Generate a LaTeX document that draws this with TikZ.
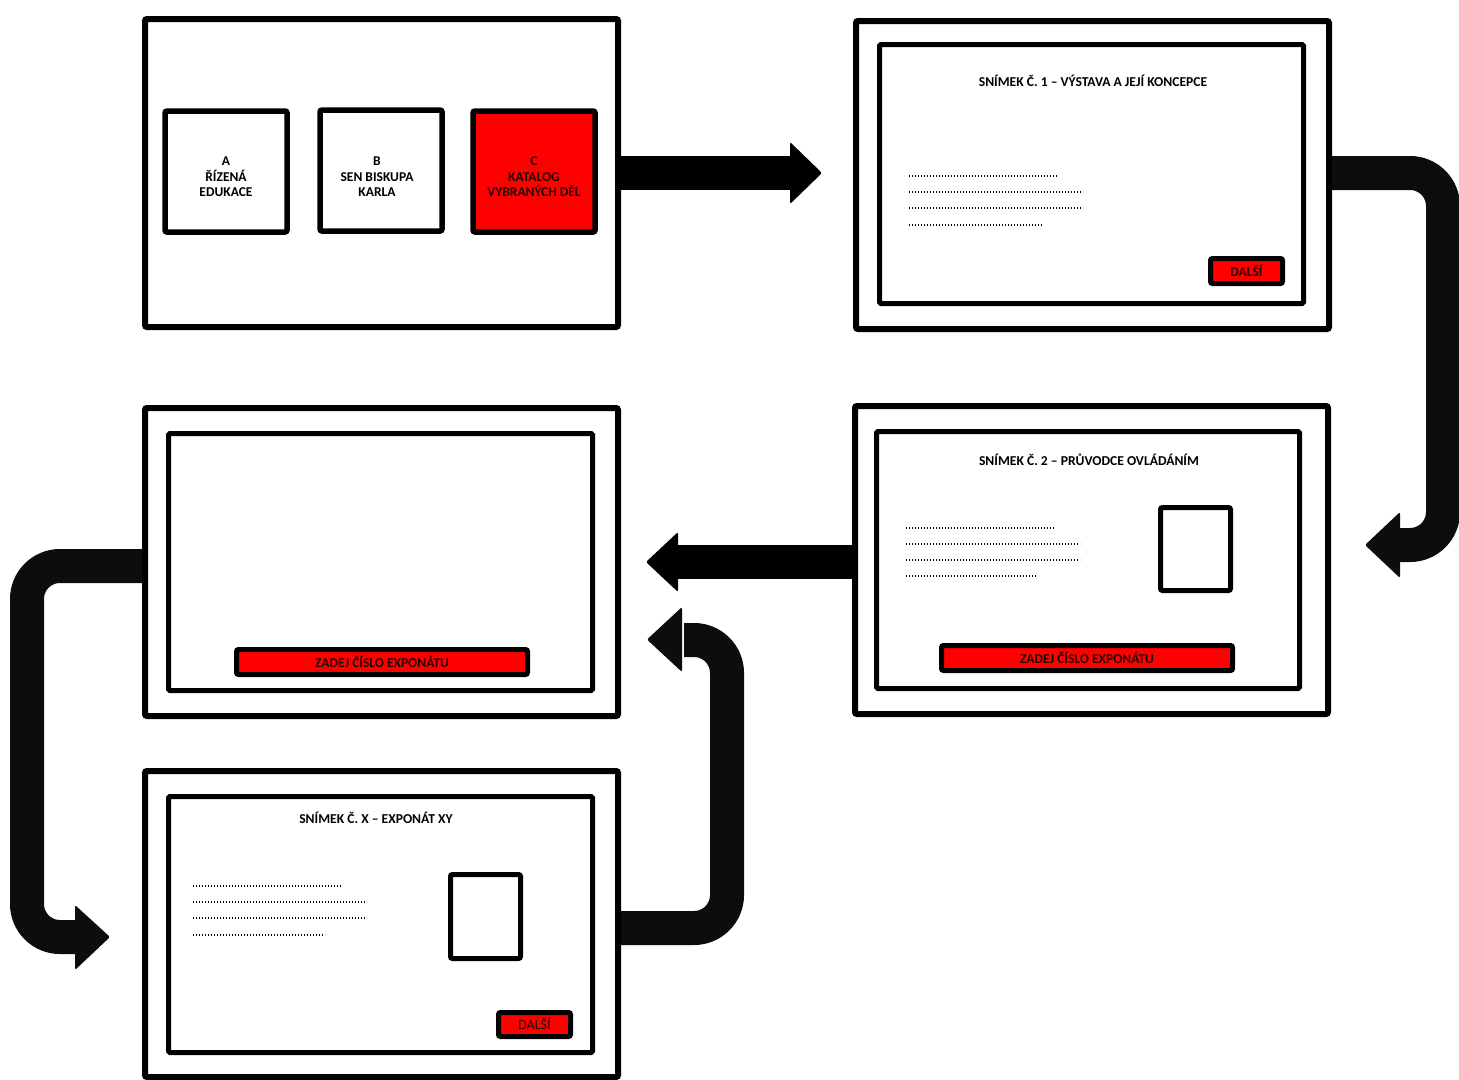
\documentclass[tikz,border=0pt]{standalone}
\usepackage{fontspec}
\setmainfont{Carlito}
\begin{document}
\begin{tikzpicture}[x=1pt,y=-1pt,
  frame/.style={draw=black,line width=6pt,rounded corners=2pt,inner sep=0pt,fill=white},
  screen/.style={draw=black,line width=5pt,rounded corners=1.5pt,inner sep=0pt},
  tile/.style={draw=black,line width=5.5pt,rounded corners=2pt,inner sep=0pt},
  redtile/.style={tile,fill=red},
  tiletext/.style={align=center,inner sep=0pt,font=\bfseries\fontsize{13.5}{15.5}\selectfont},
  redtext/.style={tiletext,text={rgb,255:red,40;green,0;blue,0}},
  btn/.style={draw=black,line width=5pt,rounded corners=2pt,fill=red,inner sep=0pt,
    text={rgb,255:red,40;green,0;blue,0},font=\bfseries\fontsize{13.5}{14}\selectfont,
    text depth=1pt},
  btnreg/.style={btn,font=\fontsize{14}{14}\selectfont},
  photo/.style={draw=black,line width=5pt,rounded corners=2pt,inner sep=0pt},
  title/.style={font=\bfseries\fontsize{13.6}{14}\selectfont,inner sep=0pt},
  dots/.style={line width=1.5pt,dash pattern=on 1.4pt off 1.6pt},
  band/.style={line width=34pt,rounded corners=33pt,color={rgb,255:red,13;green,13;blue,13}},
  straightband/.style={line width=34pt,color=black},
  head/.style={fill=black,rounded corners=2pt},
  curvehead/.style={fill={rgb,255:red,13;green,13;blue,13},rounded corners=2pt}]
\newcommand\rbox[7]{\node[#6,minimum width={#4-#2},minimum height={#5-#3}] (#1) at ({(#2+#4)/2},{(#3+#5)/2}) {#7};}
\useasboundingbox[fill=white] (0,0) rectangle (1459,1079);

% ---- connectors (drawn first, panels cover their ends) ----
\coordinate (a1s) at (618,173);
\coordinate (a1e) at (792,173);
\draw[straightband] (a1s) -- (a1e);
\fill[head] (790,142) -- (822,173) -- (790,204) -- cycle;

\coordinate (a2s) at (1329,173);
\coordinate (a2e) at (1398,545);
\draw[band] (a2s) -- (1443,173) -- (1443,545) -- (a2e);
\fill[curvehead] (1400,512) -- (1365,545) -- (1400,578) -- cycle;

\coordinate (a3s) at (855,562);
\coordinate (a3e) at (675,562);
\draw[straightband] (a3s) -- (a3e);
\fill[head] (678,532) -- (646,562) -- (678,592) -- cycle;

\coordinate (a4s) at (145,566);
\coordinate (a4e) at (77,937);
\draw[band] (a4s) -- (27,566) -- (27,937) -- (a4e);
\fill[curvehead] (75,905) -- (110,937) -- (75,970) -- cycle;

\coordinate (a5s) at (618,928);
\coordinate (a5e) at (684,640);
\draw[band] (a5s) -- (727,928) -- (727,640) -- (a5e);
\fill[curvehead] (682,607) -- (647,639.5) -- (682,672) -- cycle;

% ---- panel 1 : menu ----
\rbox{p1}{145}{19}{618}{327}{frame}{}
\rbox{ta}{165}{111}{287}{232}{tile}{}
\rbox{tb}{320}{110}{442}{231}{tile}{}
\rbox{tc}{473}{111}{595}{232}{redtile}{}
\node[tiletext] (la) at (226,177) {A\\ŘÍZENÁ\\EDUKACE};
\node[tiletext] (lb) at (377,177) {B\\SEN BISKUPA\\KARLA};
\node[redtext] (lc) at (534,177) {C\\KATALOG\\VYBRANÝCH DĚL};

% ---- panel 2 : slide 1 ----
\rbox{p2}{856}{21}{1329}{329}{frame}{}
\rbox{s2}{879.5}{44.5}{1303.5}{303.5}{screen}{}
\node[title] (t2) at (1093,81) {SNÍMEK Č. 1 – VÝSTAVA A JEJÍ KONCEPCE};
\draw[dots] (909,176) -- (1058,176);
\draw[dots] (909,192) -- (1083,192);
\draw[dots] (909,208) -- (1083,208);
\draw[dots] (909,225) -- (1042,225);
\rbox{b2}{1210.5}{258.5}{1282.5}{283.5}{btn}{DALŠÍ}

% ---- panel 3 : slide 2 ----
\rbox{p3}{855}{406}{1328}{714}{frame}{}
\rbox{s3}{876.5}{431.5}{1299.5}{688.5}{screen}{}
\node[title] (t3) at (1089,460) {SNÍMEK Č. 2 – PRŮVODCE OVLÁDÁNÍM};
\draw[dots] (906,528) -- (1055,528);
\draw[dots] (906,544) -- (1080,544);
\draw[dots] (906,560) -- (1080,560);
\draw[dots] (906,576) -- (1038,576);
\rbox{ph3}{1160.5}{507.5}{1230.5}{590.5}{photo}{}
\rbox{b3}{941.5}{645.5}{1232.5}{670.5}{btn}{ZADEJ ČÍSLO EXPONÁTU}

% ---- panel 4 : number entry ----
\rbox{p4}{145}{408}{618}{716}{frame}{}
\rbox{s4}{168.5}{433.5}{592.5}{690.5}{screen}{}
\rbox{b4}{236.5}{649.5}{527.5}{674.5}{btn}{ZADEJ ČÍSLO EXPONÁTU}

% ---- panel 5 : exhibit slide ----
\rbox{p5}{145}{771}{618}{1077}{frame}{}
\rbox{s5}{168.5}{796.5}{592.5}{1052.5}{screen}{}
\node[title] (t5) at (376,818) {SNÍMEK Č. X – EXPONÁT XY};
\draw[dots] (193,886) -- (342,886);
\draw[dots] (193,902) -- (367,902);
\draw[dots] (193,918) -- (367,918);
\draw[dots] (193,935) -- (325,935);
\rbox{ph5}{450.5}{874.5}{520.5}{958.5}{photo}{}
\rbox{b5}{498.5}{1012.5}{570.5}{1036.5}{btnreg}{DALŠÍ}
\end{tikzpicture}
\end{document}
